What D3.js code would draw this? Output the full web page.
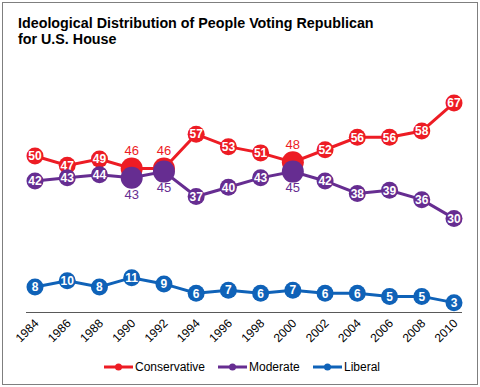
<!DOCTYPE html>
<html>
<head>
<meta charset="utf-8">
<script src="https://cdn.jsdelivr.net/npm/d3@7"></script>
<style>
  body { margin: 0; background: #fff; }
  svg { font-family: Arial, "Liberation Sans", sans-serif; }
</style>
</head>
<body>
<div id="chart"></div>
<script>
// chart data
const years = ["1984", "1986", "1988", "1990", "1992", "1994", "1996", "1998",
    "2000", "2002", "2004", "2006", "2008", "2010"];
const conservative = [50, 47, 49, 46, 46, 57, 53, 51, 48, 52, 56, 56, 58, 67];
const moderate = [42, 43, 44, 43, 45, 37, 40, 43, 45, 42, 38, 39, 36, 30];
const liberal = [8, 10, 8, 11, 9, 6, 7, 6, 7, 6, 6, 5, 5, 3];
// years where the label sits outside a bigger marker
const outsideYears = ["1990", "1992", "2000"];

const series = [
    { name: "Conservative", values: conservative, color: "#ed1c24", outside: true, above: true },
    { name: "Moderate", values: moderate, color: "#662d91", outside: true, above: false },
    { name: "Liberal", values: liberal, color: "#0f62b8", outside: false }
];

const width = 480, height = 387;

const svg = d3.select("#chart")
    .append("svg")
    .attr("width", width)
    .attr("height", height);

// outer border
svg.append("rect")
    .attr("x", 2.5).attr("y", 2.5)
    .attr("width", width - 5).attr("height", height - 5)
    .attr("fill", "#fff")
    .attr("stroke", "#7f7f7f")
    .attr("stroke-width", 1);

// title
const title = svg.append("text")
    .attr("x", 18)
    .attr("y", 28)
    .attr("font-size", 14.3)
    .attr("font-weight", "bold")
    .attr("fill", "#000");
title.append("tspan").attr("x", 18).text("Ideological Distribution of People Voting Republican");
title.append("tspan").attr("x", 18).attr("dy", 15.5).text("for U.S. House");

const x = d3.scalePoint()
    .domain(years)
    .range([35, 454]);

const y = d3.scaleLinear()
    .domain([0, 70])
    .range([312, 93.6]);

// category axis
const xAxis = svg.append("g")
    .attr("transform", "translate(0,312)")
    .call(d3.axisBottom(x).tickSize(0).tickPadding(0));
xAxis.select(".domain")
    .attr("d", "M26,0.5H462")
    .attr("stroke", "#595959");
xAxis.selectAll("text")
    .attr("font-size", 12)
    .attr("font-family", "Arial, 'Liberation Sans', sans-serif")
    .attr("fill", "#000")
    .attr("text-anchor", "end")
    .attr("dy", 0)
    .attr("transform", "translate(4,12) rotate(-45)");

const line = d3.line()
    .x((d, i) => x(years[i]))
    .y(d => y(d));

series.forEach(s => {
    const g = svg.append("g");

    g.append("path")
        .datum(s.values)
        .attr("fill", "none")
        .attr("stroke", s.color)
        .attr("stroke-width", 3)
        .attr("d", line);

    const pts = s.values.map((v, i) => ({
        year: years[i],
        v: v,
        big: s.outside && outsideYears.includes(years[i])
    }));

    g.selectAll("circle")
        .data(pts)
        .enter()
        .append("circle")
        .attr("cx", d => x(d.year))
        .attr("cy", d => y(d.v))
        .attr("r", d => d.big ? 11 : 8.5)
        .attr("fill", s.color);

    // labels inside the small markers
    g.selectAll("text.inner")
        .data(pts.filter(d => !d.big))
        .enter()
        .append("text")
        .attr("class", "inner")
        .attr("x", d => x(d.year))
        .attr("y", d => y(d.v))
        .attr("dy", "0.36em")
        .attr("text-anchor", "middle")
        .attr("font-size", 12)
        .attr("font-weight", "bold")
        .attr("fill", "#fff")
        .text(d => d.v);

    // labels outside the big markers
    g.selectAll("text.outer")
        .data(pts.filter(d => d.big))
        .enter()
        .append("text")
        .attr("class", "outer")
        .attr("x", d => x(d.year))
        .attr("y", d => s.above ? y(d.v) - 18 : y(d.v) + 16)
        .attr("dy", "0.36em")
        .attr("text-anchor", "middle")
        .attr("font-size", 13)
        .attr("fill", s.color)
        .text(d => d.v);
});

// legend
const legendX = [104, 218, 313];
const legend = svg.append("g");
series.forEach((s, i) => {
    const lg = legend.append("g")
        .attr("transform", `translate(${legendX[i]},367)`);
    lg.append("line")
        .attr("x1", 0).attr("x2", 29)
        .attr("y1", 0).attr("y2", 0)
        .attr("stroke", s.color)
        .attr("stroke-width", 3);
    lg.append("circle")
        .attr("cx", 14.5).attr("cy", 0)
        .attr("r", 3.5)
        .attr("fill", s.color);
    lg.append("text")
        .attr("x", 31)
        .attr("y", 0)
        .attr("dy", "0.36em")
        .attr("font-size", 12)
        .attr("fill", "#000")
        .text(s.name);
});
</script>
</body>
</html>
